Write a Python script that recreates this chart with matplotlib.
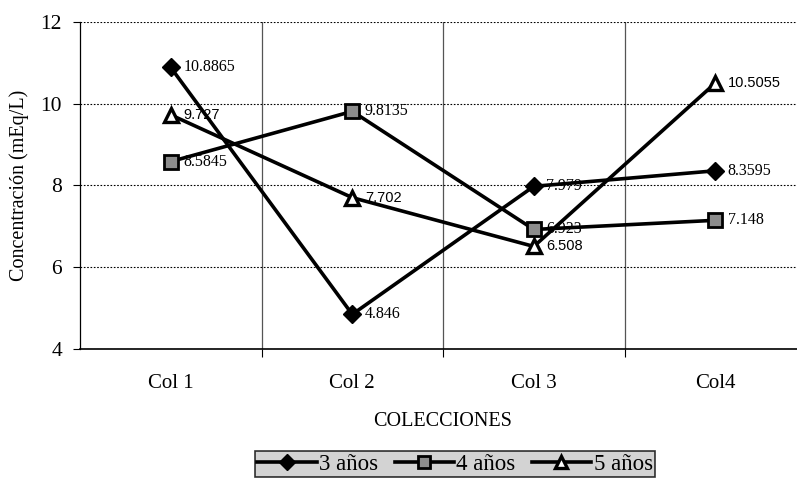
import matplotlib.pyplot as plt
from matplotlib.ticker import FixedLocator

colecciones = ['Col 1', 'Col 2', 'Col 3', 'Col4']
anios_3 = [10.8865, 4.846, 7.979, 8.3595]
anios_4 = [8.5845, 9.8135, 6.923, 7.148]
anios_5 = [9.727, 7.702, 6.508, 10.5055]

serif = ['Liberation Serif', 'DejaVu Serif']
sans = ['Liberation Sans', 'DejaVu Sans']
plt.rcParams['font.family'] = serif

fig = plt.figure(figsize=(7.97, 4.78), dpi=100)
ax = fig.add_axes([0.1004, 0.270, 0.911, 0.684])

x = list(range(len(colecciones)))

ax.plot(x, anios_3, color='black', lw=2.6, marker='D', ms=9.5,
        mfc='black', mec='black', label='3 años', zorder=3)
ax.plot(x, anios_4, color='black', lw=2.6, marker='s', ms=10,
        mfc='#8c8c8c', mec='black', mew=2, label='4 años', zorder=3)
ax.plot(x, anios_5, color='black', lw=2.6, marker='^', ms=10.5,
        mfc='white', mec='black', mew=2.4, label='5 años', zorder=3)

# etiquetas de valor a la derecha de cada punto
for i in x:
    ax.annotate(f'{anios_3[i]:g}', (i, anios_3[i]), xytext=(9, 0),
                textcoords='offset points', va='center', fontsize=11.5)
    ax.annotate(f'{anios_4[i]:g}', (i, anios_4[i]), xytext=(9, 0),
                textcoords='offset points', va='center', fontsize=11.5)
    ax.annotate(f'{anios_5[i]:g}', (i, anios_5[i]), xytext=(9, 0),
                textcoords='offset points', va='center', fontsize=10.5,
                family=sans)

ax.set_xlim(-0.5, len(colecciones) - 0.5)
ax.set_ylim(4, 12)
ax.set_yticks([4, 6, 8, 10, 12])
ax.set_xticks(x)
ax.set_xticklabels(colecciones, fontsize=15)
ax.tick_params(axis='y', labelsize=15.5, direction='out', length=5, width=0.8, pad=8)
ax.tick_params(axis='x', which='major', length=0, pad=18)
ax.xaxis.set_minor_locator(FixedLocator([0.5, 1.5, 2.5]))
ax.tick_params(axis='x', which='minor', length=6, width=0.8, direction='out')

ax.grid(axis='y', ls=(0, (1.5, 1.5)), color='black', lw=0.8)
ax.grid(axis='x', which='minor', ls='-', color='#555555', lw=0.9)
ax.set_axisbelow(True)

for s in ['top', 'right']:
    ax.spines[s].set_visible(False)
ax.spines['left'].set_linewidth(0.9)
ax.spines['bottom'].set_linewidth(1.2)

ax.set_ylabel('Concentración (mEq/L)', fontsize=14.5, labelpad=8)
ax.set_xlabel('COLECCIONES', fontsize=14.5, labelpad=14)

leg = fig.legend(loc='center', bbox_to_anchor=(0.571, 0.029), ncol=3,
                 fontsize=16.5, frameon=True, fancybox=False,
                 handlelength=2.6, handletextpad=0.1, columnspacing=0.7,
                 borderpad=0.1, borderaxespad=0, markerscale=0.85)
leg.get_frame().set_facecolor('#c8c8c8')
leg.get_frame().set_edgecolor('black')
leg.get_frame().set_linewidth(1.2)

plt.savefig('out.png', dpi=100)
plt.close()
